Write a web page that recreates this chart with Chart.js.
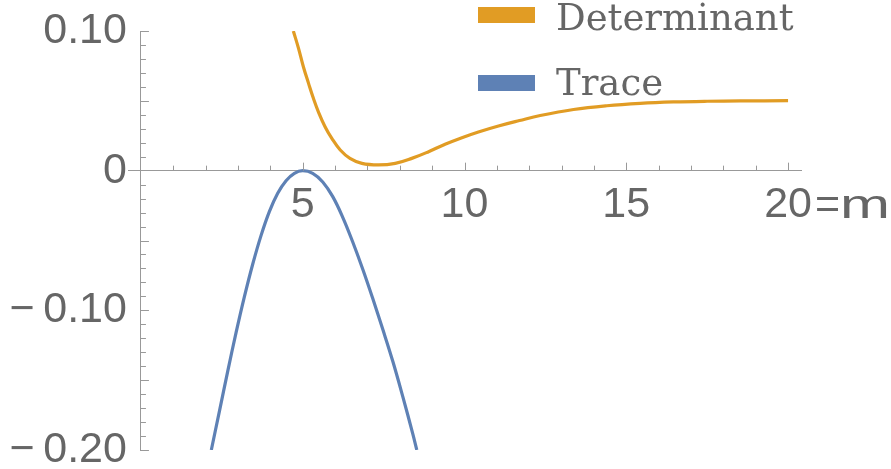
<!DOCTYPE html>
<html>
<head>
<meta charset="utf-8">
<script src="https://cdn.jsdelivr.net/npm/chart.js@4/dist/chart.umd.min.js"></script>
<style>
  html, body { margin: 0; padding: 0; background: #fff; }
  #wrap { width: 891px; height: 469px; }
</style>
</head>
<body>
<div id="wrap"><canvas id="c" width="891" height="469"></canvas></div>
<script>
// Determinant of the Jacobian as a function of m
const detM = [4.71, 4.87, 5.02, 5.18, 5.33, 5.49, 5.69, 5.90, 6.16, 6.46, 6.83, 7.34, 7.86, 8.37, 8.89, 9.40, 9.92, 10.43, 11.05, 11.70, 12.34, 13.37, 14.40, 15.43, 16.46, 17.50, 18.53, 20.00];
const detV = [0.1000, 0.0876, 0.0744, 0.0625, 0.0518, 0.0418, 0.0315, 0.0231, 0.0148, 0.0088, 0.0052, 0.0041, 0.0052, 0.0088, 0.0136, 0.0189, 0.0236, 0.0277, 0.0320, 0.0359, 0.0395, 0.0438, 0.0465, 0.0482, 0.0492, 0.0497, 0.0499, 0.0501];

// Trace of the Jacobian as a function of m
const trM = [2.175, 2.423, 2.680, 2.938, 3.196, 3.454, 3.711, 3.969, 4.227, 4.485, 4.742, 5.000,
             5.309, 5.619, 5.928, 6.237, 6.546, 6.856, 7.165, 7.474, 7.784, 8.093, 8.402, 8.526];
const trV = [-0.2000, -0.1725, -0.1439, -0.1162, -0.0904, -0.0670, -0.0465, -0.0293, -0.0162, -0.0072, -0.0019, 0.0000,
             -0.0019, -0.0081, -0.0186, -0.0334, -0.0511, -0.0706, -0.0916, -0.1136, -0.1365, -0.1618, -0.1885, -0.2000];

// Axis ticks
const xMajor = [5, 10, 15, 20];
const xMinor = [1, 2, 3, 4, 6, 7, 8, 9, 11, 12, 13, 14, 16, 17, 18, 19];
const xLabelTicks = [5, 10, 15, 20];
const yMajor = [-0.20, -0.15, -0.10, -0.05, 0.05, 0.10];
const yMinor = [-0.19, -0.18, -0.17, -0.16, -0.14, -0.13, -0.12, -0.11, -0.09, -0.08, -0.07, -0.06,
                -0.04, -0.03, -0.02, -0.01, 0.01, 0.02, 0.03, 0.04, 0.06, 0.07, 0.08, 0.09];
const yLabelTicks = [-0.20, -0.10, 0, 0.10];
const xAxisName = ['=', 'm'];

const ORANGE = '#E19C24';
const BLUE = '#5E81B5';
const AXIS = '#999999';
const LABEL = '#666666';
const SANS = '"Liberation Sans", Arial, Helvetica, sans-serif';
const SERIF = '"DejaVu Serif", serif';
const Y_LABEL_GAP = 14;

const toXY = (xs, ys) => xs.map((x, i) => ({ x: x, y: ys[i] }));

// Keep the y labels clear of the axis line (a crossing axis puts them flush against it)
const yLabelGap = {
  id: 'yLabelGap',
  beforeDraw(chart) {
    const items = chart.scales.y.getLabelItems(chart.chartArea);
    if (items._shifted) return;
    items.forEach(it => { it.options.translation[0] -= Y_LABEL_GAP; });
    items._shifted = true;
  }
};

// Tick marks on both axes (major longer than minor), placed through the scales
const tickMarks = {
  id: 'tickMarks',
  afterDatasetsDraw(chart) {
    const { ctx, scales: { x, y } } = chart;
    const x0 = x.getPixelForValue(0);
    const y0 = y.getPixelForValue(0);
    ctx.save();
    ctx.strokeStyle = AXIS;
    ctx.lineWidth = 1;
    ctx.beginPath();
    const vx = (v, len) => { const p = Math.round(x.getPixelForValue(v)) + 0.5; ctx.moveTo(p, y0); ctx.lineTo(p, y0 - len); };
    const vy = (v, len) => { const p = Math.round(y.getPixelForValue(v)) + 0.5; ctx.moveTo(x0, p); ctx.lineTo(x0 + len, p); };
    xMajor.forEach(v => vx(v, 8));
    xMinor.forEach(v => vx(v, 5));
    yMajor.forEach(v => vy(v, 8));
    yMinor.forEach(v => vy(v, 5));
    ctx.stroke();
    ctx.restore();
  }
};

// Axis name after the last x label, and the legend in the top right
const extras = {
  id: 'extras',
  afterDraw(chart) {
    const { ctx, scales: { x } } = chart;
    ctx.save();
    ctx.fillStyle = LABEL;
    ctx.textBaseline = 'alphabetic';
    ctx.textAlign = 'left';
    const lastPx = x.getPixelForValue(xLabelTicks[xLabelTicks.length - 1]);
    ctx.font = '43px ' + SANS;
    ctx.fillText(xAxisName[0], lastPx + 27, 218);
    ctx.save();
    ctx.translate(lastPx + 52, 218);
    ctx.scale(1.5, 1);
    ctx.font = '40px ' + SANS;
    ctx.fillText(xAxisName[1], 0, 0);
    ctx.restore();

    const items = chart.data.datasets;
    const boxTops = [7, 75];
    const baselines = [30, 95];
    ctx.font = '37px ' + SERIF;
    items.forEach((ds, i) => {
      ctx.fillStyle = ds.borderColor;
      ctx.fillRect(478, boxTops[i], 57, 16);
      ctx.fillStyle = LABEL;
      ctx.fillText(ds.label, 556, baselines[i]);
    });
    ctx.restore();
  }
};

new Chart(document.getElementById('c'), {
  type: 'scatter',
  data: {
    datasets: [
      { label: 'Determinant', data: toXY(detM, detV), borderColor: ORANGE, backgroundColor: ORANGE,
        showLine: true, pointRadius: 0, borderWidth: 3.2, tension: 0.4, fill: false },
      { label: 'Trace', data: toXY(trM, trV), borderColor: BLUE, backgroundColor: BLUE,
        showLine: true, pointRadius: 0, borderWidth: 3.2, tension: 0.4, fill: false }
    ]
  },
  options: {
    responsive: false,
    animation: false,
    events: [],
    layout: { padding: { left: 128, top: 31, right: 90, bottom: 19 } },
    plugins: { legend: { display: false }, tooltip: { enabled: false } },
    scales: {
      x: {
        type: 'linear', min: -0.4, max: 20.4,
        position: { y: 0 },
        afterBuildTicks: s => { s.ticks = xLabelTicks.map(v => ({ value: v })); },
        afterFit: s => { s.paddingLeft = 0; s.paddingRight = 0; },
        grid: { display: false, drawTicks: false },
        border: { display: true, color: AXIS, width: 1 },
        ticks: { color: LABEL, font: { family: SANS, size: 43 }, padding: 9, maxRotation: 0, autoSkip: false,
                 callback: v => String(v) }
      },
      y: {
        type: 'linear', min: -0.2, max: 0.1,
        position: { x: 0 },
        afterBuildTicks: s => { s.ticks = yLabelTicks.map(v => ({ value: v })); },
        afterFit: s => { s.paddingTop = 0; s.paddingBottom = 0; },
        grid: { display: false, drawTicks: false },
        border: { display: true, color: AXIS, width: 1 },
        ticks: { color: LABEL, font: { family: SANS, size: 43 }, padding: 0, autoSkip: false,
                 callback: v => Math.abs(v) < 1e-9 ? '0' : (v < 0 ? '\u2212\u2009' : '') + Math.abs(v).toFixed(2) }
      }
    }
  },
  plugins: [yLabelGap, tickMarks, extras]
});
</script>
</body>
</html>
